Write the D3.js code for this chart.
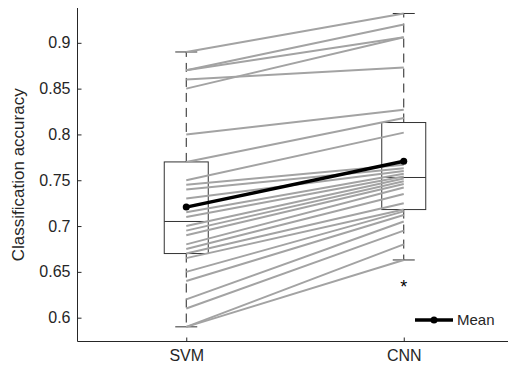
<html>
<head>
<meta charset="UTF-8">
<script src="https://cdn.jsdelivr.net/npm/d3@7"></script>
<style>
	body { margin: 0; background: white; }
	svg text { font-family: "Liberation Sans", Arial, sans-serif; fill: #262626; }
	.pair { fill: none; stroke: #a3a3a3; stroke-width: 2; }
	.box { fill: none; stroke: #333; stroke-width: 1; }
	.whisk { stroke: #222; stroke-width: 1; stroke-dasharray: 9 6; }
	.cap { stroke: #333; stroke-width: 1; }
	.meanline { stroke: black; stroke-width: 3.5; fill: none; }
	.axis path, .axis line { stroke: #262626; }
</style>
</head>
<body>
<div id="chart"></div>
<script>
// groups on the x axis
var groups = ["SVM", "CNN"];

// per-subject accuracy, paired by index
var svm = [0.89, 0.87, 0.87, 0.86, 0.85, 0.80, 0.77, 0.75, 0.745, 0.74, 0.73, 0.715, 0.71,
           0.70, 0.695, 0.69, 0.68, 0.675, 0.67, 0.665, 0.65, 0.64, 0.62, 0.61, 0.59, 0.59];
var cnn = [0.932, 0.92, 0.906, 0.873, 0.906, 0.827, 0.818, 0.802, 0.767, 0.763, 0.76, 0.757, 0.754,
           0.752, 0.749, 0.746, 0.742, 0.735, 0.725, 0.718, 0.716, 0.712, 0.705, 0.695, 0.68, 0.663];

// box statistics
var q1 = [0.670, 0.718];
var medians = [0.705, 0.753];
var q3 = [0.770, 0.813];
var whiskLo = [0.590, 0.663];
var whiskHi = [0.890, 0.932];
var outliers = [[], [0.637]];
var means = [0.7207, 0.7707];

var yTicks = [0.6, 0.65, 0.7, 0.75, 0.8, 0.85, 0.9];

var W = 508, H = 371;
var mLeft = 77.5, mTop = 8, mBottom = 341.5;

var svg = d3.select("#chart").append("svg").attr("width", W).attr("height", H);

var x = d3.scaleLinear().domain([0.5, 2.5]).range([mLeft, 512.5]);
var y = d3.scaleLinear().domain([0.574, 0.938]).range([mBottom, mTop]);

var boxHalf = 22, capHalf = 11;

// boxes and whiskers
groups.forEach(function(g, i) {
	var cx = x(i + 1);
	svg.append("line").attr("class", "whisk")
		.attr("x1", cx).attr("x2", cx).attr("y1", y(q3[i])).attr("y2", y(whiskHi[i]));
	svg.append("line").attr("class", "whisk")
		.attr("x1", cx).attr("x2", cx).attr("y1", y(q1[i])).attr("y2", y(whiskLo[i]));
	[whiskLo[i], whiskHi[i]].forEach(function(v) {
		svg.append("line").attr("class", "cap")
			.attr("x1", cx - capHalf).attr("x2", cx + capHalf).attr("y1", y(v)).attr("y2", y(v));
	});
	svg.append("rect").attr("class", "box")
		.attr("x", cx - boxHalf).attr("width", 2 * boxHalf)
		.attr("y", y(q3[i])).attr("height", y(q1[i]) - y(q3[i]));
	svg.append("line").attr("class", "cap")
		.attr("x1", cx - boxHalf).attr("x2", cx + boxHalf)
		.attr("y1", y(medians[i])).attr("y2", y(medians[i]));
	outliers[i].forEach(function(v) {
		svg.append("text").attr("x", cx).attr("y", y(v) + 9)
			.attr("text-anchor", "middle").style("font-size", "18px").style("fill", "black")
			.text("*");
	});
});

// paired lines
svg.selectAll("line.pair")
	.data(svm.map(function(v, i) { return [v, cnn[i]]; }))
	.enter().append("line")
	.attr("class", "pair")
	.attr("x1", x(1)).attr("x2", x(2))
	.attr("y1", function(d) { return y(d[0]); })
	.attr("y2", function(d) { return y(d[1]); });

// mean line
svg.append("line").attr("class", "meanline")
	.attr("x1", x(1)).attr("x2", x(2)).attr("y1", y(means[0])).attr("y2", y(means[1]));
svg.selectAll("circle.mean").data(means).enter().append("circle")
	.attr("cx", function(d, i) { return x(i + 1); })
	.attr("cy", function(d) { return y(d); })
	.attr("r", 3.5).attr("fill", "black");

// axes
var yAxis = svg.append("g").attr("class", "axis")
	.attr("transform", "translate(" + mLeft + ",0)")
	.call(d3.axisLeft(y).tickValues(yTicks).tickSizeInner(-4).tickSizeOuter(0).tickPadding(7)
		.tickFormat(function(d) { return String(+d.toFixed(2)); }));
yAxis.select(".domain").attr("d", "M0," + mTop + "V" + mBottom);
yAxis.selectAll("text").style("font-size", "16px");

var xAxis = svg.append("g").attr("class", "axis")
	.attr("transform", "translate(0," + mBottom + ")")
	.call(d3.axisBottom(x).tickValues([1, 2]).tickSizeInner(-4).tickSizeOuter(0).tickPadding(8)
		.tickFormat(function(d) { return groups[d - 1]; }));
xAxis.select(".domain").attr("d", "M" + mLeft + ",0H" + W);
xAxis.selectAll("text").style("font-size", "16px");

svg.append("text")
	.attr("transform", "translate(24," + ((mTop + mBottom) / 2) + ") rotate(-90)")
	.attr("text-anchor", "middle").style("font-size", "17px")
	.text("Classification accuracy");

// legend
var lg = svg.append("g").attr("transform", "translate(415,320)");
lg.append("line").attr("class", "meanline").attr("x1", 0).attr("x2", 38);
lg.append("circle").attr("cx", 19).attr("r", 3.5).attr("fill", "black");
lg.append("text").attr("x", 42).attr("y", 5).style("font-size", "15px").text("Mean");
</script>
</body>
</html>
